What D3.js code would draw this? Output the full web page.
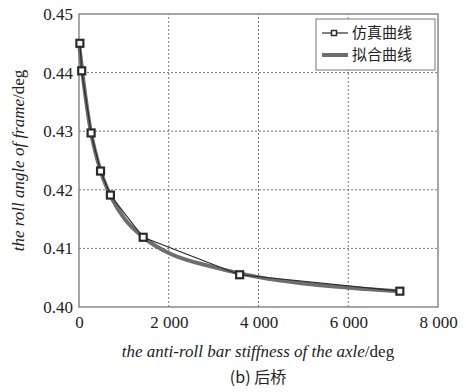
<!DOCTYPE html>
<html>
<head>
<meta charset="utf-8">
<script src="https://cdn.jsdelivr.net/npm/d3@7"></script>
<style>
  body { margin: 0; background: #fff; }
  svg { display: block; }
</style>
</head>
<body>
<div id="chart"></div>
<script>
// simulated points
const simX = [20, 60, 270, 480, 700, 1430, 3580, 7150];
const simY = [0.4450, 0.4403, 0.4297, 0.4232, 0.4191, 0.4119, 0.4055, 0.4027];
// fitted curve
const fitX = [0, 100, 250, 500, 750, 1000, 1500, 2000, 3000, 4000, 5000, 6000, 7150];
const fitY = [0.4450, 0.4385, 0.4305, 0.4228, 0.4183, 0.4152, 0.4115, 0.4092, 0.4068, 0.4051, 0.4040, 0.4033, 0.4027];
const xTicks = [0, 2000, 4000, 6000, 8000];
const yTicks = [0.40, 0.41, 0.42, 0.43, 0.44, 0.45];
const legendNames = ["仿真曲线", "拟合曲线"];

const W = 466, H = 392;
const m = { left: 79, right: 28, top: 14, bottom: 85 };
const SERIF = "'Liberation Serif', 'Times New Roman', Tinos, 'DejaVu Serif', serif";
const CJK = "'Noto Sans CJK SC', 'Noto Sans CJK JP', sans-serif";

const svg = d3.select("#chart").append("svg").attr("width", W).attr("height", H);

const x = d3.scaleLinear().domain([0, 8000]).range([m.left, W - m.right]);
const y = d3.scaleLinear().domain([0.40, 0.45]).range([H - m.bottom, m.top]);

const fmtX = d => d === 0 ? "0" : d3.format(",")(d).replace(",", " ");

// grid
const grid = svg.append("g");
grid.selectAll(".gx").data(xTicks.slice(1, -1)).enter().append("line")
  .attr("x1", d => x(d)).attr("x2", d => x(d))
  .attr("y1", y(0.40)).attr("y2", y(0.45))
  .attr("stroke", "#777").attr("stroke-width", 1).attr("stroke-dasharray", "2,2");
grid.selectAll(".gy").data(yTicks.slice(1, -1)).enter().append("line")
  .attr("x1", x(0)).attr("x2", x(8000))
  .attr("y1", d => y(d)).attr("y2", d => y(d))
  .attr("stroke", "#777").attr("stroke-width", 1).attr("stroke-dasharray", "2,2");

// axes
const xAxis = svg.append("g").attr("transform", `translate(0,${y(0.40)})`)
  .call(d3.axisBottom(x).tickValues(xTicks).tickFormat(fmtX).tickSize(0).tickPadding(9));
const yAxis = svg.append("g").attr("transform", `translate(${x(0)},0)`)
  .call(d3.axisLeft(y).tickValues(yTicks).tickFormat(d3.format(".2f")).tickSize(0).tickPadding(6));
[xAxis, yAxis].forEach(a => {
  a.select(".domain").remove();
  a.attr("font-family", SERIF).attr("font-size", 17);
  a.selectAll("text").attr("fill", "#222");
});

// frame
svg.append("rect")
  .attr("x", x(0)).attr("y", y(0.45))
  .attr("width", x(8000) - x(0)).attr("height", y(0.40) - y(0.45))
  .attr("fill", "none").attr("stroke", "#777").attr("stroke-width", 1.3);

// fitted curve
const fitData = fitX.map((v, i) => [v, fitY[i]]);
svg.append("path").datum(fitData)
  .attr("d", d3.line().x(d => x(d[0])).y(d => y(d[1])).curve(d3.curveMonotoneX))
  .attr("fill", "none").attr("stroke", "#6e6e6e").attr("stroke-width", 4);

// simulated curve
const simData = simX.map((v, i) => [v, simY[i]]);
svg.append("path").datum(simData)
  .attr("d", d3.line().x(d => x(d[0])).y(d => y(d[1])))
  .attr("fill", "none").attr("stroke", "#2a2a2a").attr("stroke-width", 1.2);
svg.selectAll(".mk").data(simData).enter().append("rect")
  .attr("x", d => x(d[0]) - 3.5).attr("y", d => y(d[1]) - 3.5)
  .attr("width", 7).attr("height", 7)
  .attr("fill", "#fff").attr("stroke", "#2a2a2a").attr("stroke-width", 2.2);

// legend
const lg = svg.append("g").attr("transform", "translate(316,19)");
lg.append("rect").attr("width", 119).attr("height", 51)
  .attr("fill", "#fff").attr("stroke", "#777").attr("stroke-width", 1);
lg.append("line").attr("x1", 6).attr("x2", 32).attr("y1", 14).attr("y2", 14)
  .attr("stroke", "#2a2a2a").attr("stroke-width", 1.2);
lg.append("rect").attr("x", 15.5).attr("y", 11.5).attr("width", 5).attr("height", 5)
  .attr("fill", "#fff").attr("stroke", "#2a2a2a").attr("stroke-width", 1.5);
lg.append("line").attr("x1", 6).attr("x2", 32).attr("y1", 36).attr("y2", 36)
  .attr("stroke", "#6e6e6e").attr("stroke-width", 4);
lg.selectAll(".lt").data(legendNames).enter().append("text")
  .attr("x", 36).attr("y", (d, i) => 14 + i * 22).attr("dy", "0.35em")
  .attr("font-family", CJK).attr("font-size", 15)
  .attr("fill", "#222").text(d => d);

// axis labels
const yl = svg.append("text")
  .attr("transform", `translate(24,${(y(0.40) + y(0.45)) / 2}) rotate(-90)`)
  .attr("text-anchor", "middle")
  .attr("font-family", SERIF).attr("font-size", 17).attr("fill", "#222");
yl.append("tspan").attr("font-style", "italic").text("the roll angle of frame");
yl.append("tspan").text("/deg");

const xl = svg.append("text")
  .attr("x", 258).attr("y", 357).attr("text-anchor", "middle")
  .attr("font-family", SERIF).attr("font-size", 17).attr("fill", "#222");
xl.append("tspan").attr("font-style", "italic").text("the anti-roll bar stiffness of the axle");
xl.append("tspan").text("/deg");

svg.append("text").attr("x", 258).attr("y", 383).attr("text-anchor", "middle")
  .attr("font-family", CJK).attr("font-size", 16).attr("fill", "#222")
  .text("(b) 后桥");
</script>
</body>
</html>
